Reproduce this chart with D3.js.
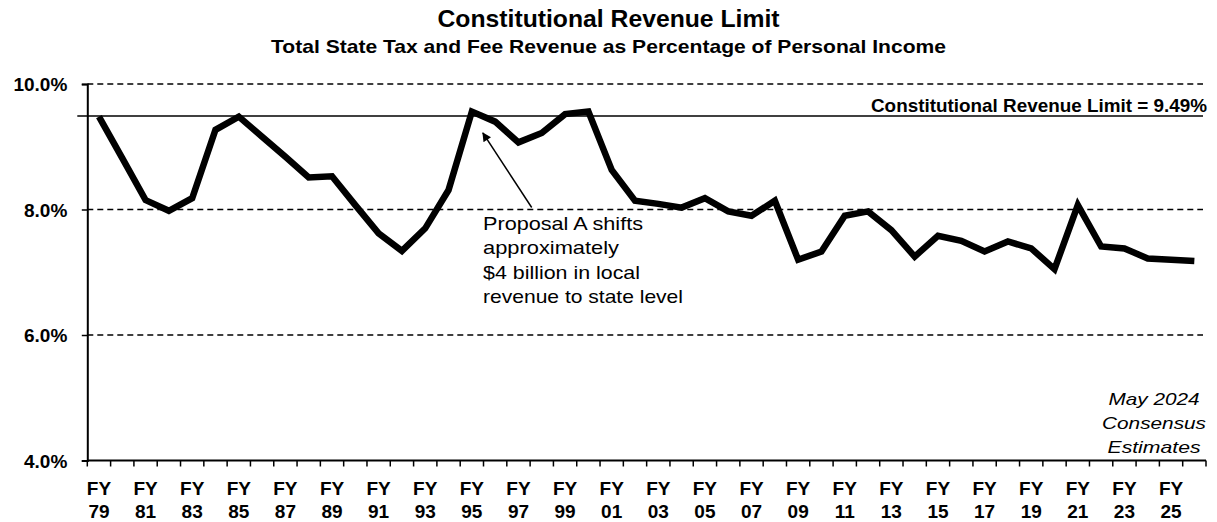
<!DOCTYPE html>
<html>
<head>
<meta charset="utf-8">
<script src="https://cdn.jsdelivr.net/npm/d3@7"></script>
<style>
    body { margin: 0; background: #ffffff; }
    svg { display: block; font-family: "Liberation Sans", Arial, sans-serif; }
</style>
</head>
<body>
<div id="RevenueLimitContainer"></div>
<script>
// fiscal years on the x axis (one point per year)
const fiscalYears = ['79', '80', '81', '82', '83', '84', '85', '86', '87', '88',
    '89', '90', '91', '92', '93', '94', '95', '96', '97', '98',
    '99', '00', '01', '02', '03', '04', '05', '06', '07', '08',
    '09', '10', '11', '12', '13', '14', '15', '16', '17', '18',
    '19', '20', '21', '22', '23', '24', '25', '26'];

// revenue as % of personal income
const revenueShare = [9.48, 8.82, 8.15, 7.98, 8.18, 9.27, 9.48, 9.16, 8.84, 8.51,
    8.53, 8.07, 7.62, 7.34, 7.70, 8.31, 9.56, 9.40, 9.07, 9.22,
    9.52, 9.56, 8.63, 8.14, 8.09, 8.03, 8.18, 7.97, 7.90, 8.14,
    7.20, 7.33, 7.90, 7.97, 7.67, 7.25, 7.58, 7.50, 7.33, 7.49,
    7.38, 7.05, 8.07, 7.41, 7.38, 7.22, 7.20, 7.18];

// labelled years (every other one)
const labelYears = ['79', '81', '83', '85', '87', '89', '91', '93', '95', '97',
    '99', '01', '03', '05', '07', '09', '11', '13', '15', '17',
    '19', '21', '23', '25'];

const yTicks = [4, 6, 8, 10];
const gridValues = [6, 8, 10];
const revenueLimit = 9.49;

const annotationLines = ['Proposal A shifts', 'approximately', '$4 billion in local', 'revenue to state level'];
const annotationWidths = [160, 136, 157, 200];
const noteLines = ['May 2024', 'Consensus', 'Estimates'];
const noteWidths = [91, 104, 93];

const width = 1217;
const height = 522;
const plotLeft = 87.3;
const plotRight = 1206;
const plotTop = 84;
const plotBottom = 460.5;

const svg = d3.select('#RevenueLimitContainer')
    .append('svg')
    .attr('width', width)
    .attr('height', height);

const x = d3.scaleBand()
    .domain(fiscalYears)
    .range([plotLeft, plotRight])
    .padding(0);

const y = d3.scaleLinear()
    .domain([4, 10])
    .range([plotBottom, plotTop]);

// titles
svg.append('text')
    .attr('x', width / 2)
    .attr('y', 27)
    .attr('text-anchor', 'middle')
    .attr('font-size', 24)
    .attr('font-weight', 'bold')
    .attr('textLength', 342)
    .attr('lengthAdjust', 'spacingAndGlyphs')
    .text('Constitutional Revenue Limit');

svg.append('text')
    .attr('x', width / 2)
    .attr('y', 53)
    .attr('text-anchor', 'middle')
    .attr('font-size', 18.5)
    .attr('font-weight', 'bold')
    .attr('textLength', 675)
    .attr('lengthAdjust', 'spacingAndGlyphs')
    .text('Total State Tax and Fee Revenue as Percentage of Personal Income');

// dashed grid lines
svg.append('g')
    .selectAll('line')
    .data(gridValues)
    .enter()
    .append('line')
    .attr('x1', plotLeft)
    .attr('x2', plotRight - 3)
    .attr('y1', d => y(d))
    .attr('y2', d => y(d))
    .attr('stroke', 'black')
    .attr('stroke-width', 1.5)
    .attr('stroke-dasharray', '6,4');

// y axis
const yAxis = d3.axisLeft(y)
    .tickValues(yTicks)
    .tickSize(5.5)
    .tickFormat(d => d3.format('.1f')(d) + '%');

const yAxisG = svg.append('g')
    .attr('transform', `translate(${plotLeft},0)`)
    .call(yAxis);
yAxisG.select('.domain').attr('stroke-width', 2);
yAxisG.selectAll('.tick line').attr('stroke-width', 1.5);
yAxisG.selectAll('.tick text')
    .attr('x', -20)
    .attr('dy', '0.36em')
    .attr('fill', 'black')
    .attr('font-size', 19)
    .attr('font-weight', 'bold')
    .attr('font-family', '"Liberation Sans", Arial, sans-serif');

// x axis: ticks sit between the years
const xAxisG = svg.append('g')
    .attr('transform', `translate(0,${plotBottom})`);
xAxisG.append('line')
    .attr('x1', plotLeft)
    .attr('x2', plotRight)
    .attr('stroke', 'black')
    .attr('stroke-width', 2);
xAxisG.selectAll('.tickmark')
    .data(fiscalYears.concat(['end']))
    .enter()
    .append('line')
    .attr('class', 'tickmark')
    .attr('x1', (d, i) => i < fiscalYears.length ? x(d) : x.range()[1])
    .attr('x2', (d, i) => i < fiscalYears.length ? x(d) : x.range()[1])
    .attr('y1', 0)
    .attr('y2', 6)
    .attr('stroke', 'black')
    .attr('stroke-width', 1.5);

const labels = xAxisG.selectAll('.yearlabel')
    .data(labelYears)
    .enter()
    .append('text')
    .attr('class', 'yearlabel')
    .attr('text-anchor', 'middle')
    .attr('font-size', 19)
    .attr('font-weight', 'bold');
labels.append('tspan')
    .attr('x', d => x(d) + x.bandwidth() / 2)
    .attr('y', 34)
    .text('FY');
labels.append('tspan')
    .attr('x', d => x(d) + x.bandwidth() / 2)
    .attr('y', 57)
    .text(d => d);

// constitutional limit line and label
svg.append('line')
    .attr('x1', plotLeft - 10)
    .attr('x2', plotRight - 3)
    .attr('y1', y(revenueLimit))
    .attr('y2', y(revenueLimit))
    .attr('stroke', 'black')
    .attr('stroke-width', 1.5);

svg.append('text')
    .attr('x', plotRight + 1)
    .attr('y', y(revenueLimit) - 4)
    .attr('text-anchor', 'end')
    .attr('font-size', 18.6)
    .attr('font-weight', 'bold')
    .attr('textLength', 336)
    .attr('lengthAdjust', 'spacingAndGlyphs')
    .text('Constitutional Revenue Limit = ' + d3.format('.2f')(revenueLimit) + '%');

// revenue line
const line = d3.line()
    .x((d, i) => x(fiscalYears[i]) + x.bandwidth() / 2)
    .y(d => y(d));

svg.append('path')
    .datum(revenueShare)
    .attr('d', line)
    .attr('fill', 'none')
    .attr('stroke', 'black')
    .attr('stroke-width', 6.5)
    .attr('stroke-linejoin', 'miter')
    .attr('stroke-miterlimit', 3);

// Proposal A annotation with arrow
svg.append('defs')
    .append('marker')
    .attr('id', 'arrowHead')
    .attr('viewBox', '0 0 10 10')
    .attr('refX', 9)
    .attr('refY', 5)
    .attr('markerWidth', 10)
    .attr('markerHeight', 9)
    .attr('markerUnits', 'userSpaceOnUse')
    .attr('orient', 'auto')
    .append('path')
    .attr('d', 'M0,0 L10,5 L0,10 z')
    .attr('fill', 'black');

svg.append('line')
    .attr('x1', 531.7)
    .attr('y1', y(8.0) - 2)
    .attr('x2', x('95') + x.bandwidth() / 2 + 11)
    .attr('y2', y(9.22))
    .attr('stroke', 'black')
    .attr('stroke-width', 1.5)
    .attr('marker-end', 'url(#arrowHead)');

svg.append('g')
    .selectAll('text')
    .data(annotationLines)
    .enter()
    .append('text')
    .attr('x', 483)
    .attr('y', (d, i) => 229.5 + i * 24.5)
    .attr('font-size', 18.6)
    .attr('textLength', (d, i) => annotationWidths[i])
    .attr('lengthAdjust', 'spacingAndGlyphs')
    .text(d => d);

// estimate note, bottom right
svg.append('g')
    .selectAll('text')
    .data(noteLines)
    .enter()
    .append('text')
    .attr('x', 1154)
    .attr('y', (d, i) => 405 + i * 24.2)
    .attr('text-anchor', 'middle')
    .attr('font-size', 16.5)
    .attr('font-style', 'italic')
    .attr('textLength', (d, i) => noteWidths[i])
    .attr('lengthAdjust', 'spacingAndGlyphs')
    .text(d => d);
</script>
</body>
</html>
